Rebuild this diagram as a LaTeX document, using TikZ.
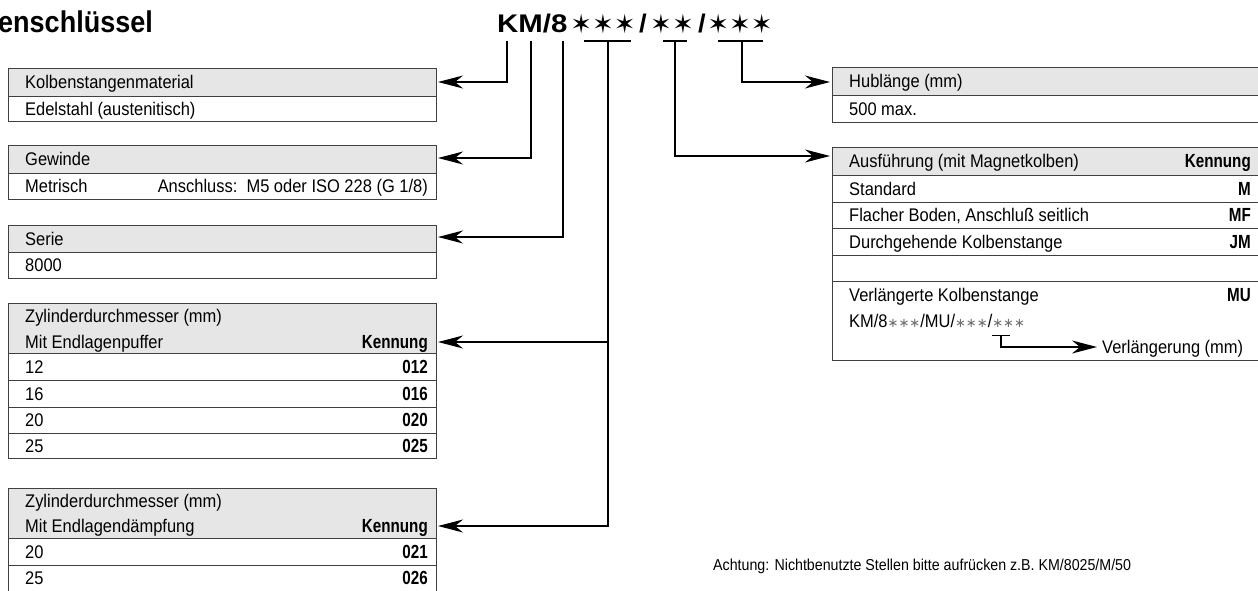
\documentclass[tikz,border=0pt]{standalone}
\usepackage{fontspec}
\setmainfont{Liberation Sans}[FakeStretch=0.9]
\newfontfamily\kbf{Liberation Sans}[FakeStretch=0.8]
\newfontfamily\starf{DejaVu Sans}
\usetikzlibrary{arrows.meta}
\definecolor{hdrgray}{HTML}{E6E6E6}
\definecolor{boxline}{HTML}{404040}
\definecolor{stargray}{HTML}{707070}
\tikzset{
  frame/.style={draw=boxline, line width=1pt, inner sep=0pt, anchor=north west},
  hdr/.style={fill=hdrgray},
  sep/.style={draw=boxline, line width=1pt},
  txt/.style={anchor=base west, yshift=-6.5pt, inner sep=0pt, font=\fontsize{18.3}{21}\selectfont},
  rtxt/.style={anchor=base east, yshift=-6.5pt, inner sep=0pt, font=\kbf\bfseries\fontsize{19}{21}\selectfont},
  conn/.style={line width=1.3pt, draw=black},
  arr/.style={conn, -{Stealth[length=25pt, width=13pt, inset=8pt]}},
  ttl/.style={inner sep=0pt, anchor=base, font=\bfseries\fontsize{25.5}{26}\selectfont},
  stars/.style={inner sep=0pt, anchor=base, font=\starf\fontsize{26}{26}\selectfont},
}
\newcommand\smallstars{{\starf\fontsize{13}{13}\selectfont\color{stargray}∗∗∗}}
\begin{document}
\begin{tikzpicture}[x=1pt, y=-1pt]
\useasboundingbox (0,0) rectangle (1258,590);
\clip (0,0) rectangle (1258,590);

% ---------- titles ----------
\node[anchor=base east, inner sep=0pt, font=\bfseries\fontsize{30}{30}\selectfont] (title) at (153,32) {enschlüssel};
\node[ttl, anchor=base west] (tKM) at (497,32) {\scalebox{1.28}[1]{KM/8}};
\node[stars] (st1) at (603,33) {✶✶✶};
\node[ttl] (sl1) at (643,32) {\scalebox{1.2}[1]{/}};
\node[stars] (st2) at (672,33) {✶✶};
\node[ttl] (sl2) at (702,32) {\scalebox{1.2}[1]{/}};
\node[stars] (st3) at (740,33) {✶✶✶};

\coordinate (sK) at (507,41);
\coordinate (sM) at (531,41);
\coordinate (s8) at (563,41);
\coordinate (u1) at (608,41);
\coordinate (u2) at (675,41);
\coordinate (u3) at (742,41);
\draw[conn] (584,41) -- (631,41);
\draw[conn] (663,41) -- (687,41);
\draw[conn] (718,41) -- (763,41);

% ---------- left boxes ----------
% Kolbenstangenmaterial
\fill[hdr] (8,68) rectangle (436,96);
\draw[sep] (8,96) -- (436,96);
\node[frame, minimum width=428pt, minimum height=53pt] (mat) at (8,68) {};
\node[txt] (mat1) at (25,82) {Kolbenstangenmaterial};
\node[txt] (mat2) at (25,108.5) {Edelstahl (austenitisch)};

% Gewinde
\fill[hdr] (8,145) rectangle (436,173);
\draw[sep] (8,173) -- (436,173);
\node[frame, minimum width=428pt, minimum height=54pt] (gew) at (8,145) {};
\node[txt] (gew1) at (25,159) {Gewinde};
\node[txt] (gew2) at (25,186) {Metrisch};
\node[txt, anchor=base east] (gew3) at (428,186) {Anschluss:\ \ M5 oder ISO 228 (G 1/8)};

% Serie
\fill[hdr] (8,225) rectangle (436,252);
\draw[sep] (8,252) -- (436,252);
\node[frame, minimum width=428pt, minimum height=53pt] (ser) at (8,225) {};
\node[txt] (ser1) at (25,238.5) {Serie};
\node[txt] (ser2) at (25,265) {8000};

% Zylinder 1
\fill[hdr] (8,303) rectangle (436,353);
\draw[sep] (8,353) -- (436,353);
\draw[sep] (8,380) -- (436,380);
\draw[sep] (8,407) -- (436,407);
\draw[sep] (8,433) -- (436,433);
\node[frame, minimum width=428pt, minimum height=155pt] (zyl1) at (8,303) {};
\node[txt] (z1a) at (25,316) {Zylinderdurchmesser (mm)};
\node[txt] (z1b) at (25,341.5) {Mit Endlagenpuffer};
\node[rtxt] (z1k) at (428,341.5) {Kennung};
\node[txt] (z1r1) at (25,366.5) {12};
\node[rtxt] (z1c1) at (428,366.5) {012};
\node[txt] (z1r2) at (25,393.5) {16};
\node[rtxt] (z1c2) at (428,393.5) {016};
\node[txt] (z1r3) at (25,420) {20};
\node[rtxt] (z1c3) at (428,420) {020};
\node[txt] (z1r4) at (25,445.5) {25};
\node[rtxt] (z1c4) at (428,445.5) {025};

% Zylinder 2
\fill[hdr] (8,488) rectangle (436,538);
\draw[sep] (8,538) -- (436,538);
\draw[sep] (8,565) -- (436,565);
\node[frame, minimum width=428pt, minimum height=105pt] (zyl2) at (8,488) {};
\node[txt] (z2a) at (25,501) {Zylinderdurchmesser (mm)};
\node[txt] (z2b) at (25,526) {Mit Endlagendämpfung};
\node[rtxt] (z2k) at (428,526) {Kennung};
\node[txt] (z2r1) at (25,551.5) {20};
\node[rtxt] (z2c1) at (428,551.5) {021};
\node[txt] (z2r2) at (25,578) {25};
\node[rtxt] (z2c2) at (428,578) {026};

% ---------- right boxes ----------
% Hublaenge
\fill[hdr] (832,67) rectangle (1262,95);
\draw[sep] (832,95) -- (1262,95);
\node[frame, minimum width=430pt, minimum height=55pt] (hub) at (832,67) {};
\node[txt] (hub1) at (849,81) {Hublänge (mm)};
\node[txt] (hub2) at (849,108.5) {500 max.};

% Ausfuehrung
\fill[hdr] (832,147) rectangle (1262,175);
\draw[sep] (832,175) -- (1262,175);
\draw[sep] (832,202) -- (1262,202);
\draw[sep] (832,228) -- (1262,228);
\draw[sep] (832,255) -- (1262,255);
\draw[sep] (832,281) -- (1262,281);
\node[frame, minimum width=430pt, minimum height=213pt] (aus) at (832,147) {};
\node[txt] (aus1) at (849,161) {Ausführung (mit Magnetkolben)};
\node[rtxt] (ausk) at (1251,161) {Kennung};
\node[txt] (aus2) at (849,188.5) {Standard};
\node[rtxt] (ausc2) at (1251,188.5) {M};
\node[txt] (aus3) at (849,215) {Flacher Boden, Anschluß seitlich};
\node[rtxt] (ausc3) at (1251,215) {MF};
\node[txt] (aus4) at (849,241.5) {Durchgehende Kolbenstange};
\node[rtxt] (ausc4) at (1251,241.5) {JM};
\node[txt] (aus5) at (849,295) {Verlängerte Kolbenstange};
\node[rtxt] (ausc5) at (1251,295) {MU};
\node[txt] (aus6) at (849,321) {KM/8\smallstars/MU/\smallstars/\smallstars};
\coordinate (v0) at (1001,335);
\draw[line width=1pt] (992,335) -- (1010,335);
\node[txt] (verl) at (1102,347) {Verlängerung (mm)};
\coordinate (vtip) at (1097,347);
\draw[arr] (v0) |- (vtip);

% note
\node[txt, font=\fontsize{15.8}{18}\selectfont, yshift=0.8pt] (note) at (713,565) {Achtung: Nichtbenutzte Stellen bitte aufrücken z.B. KM/8025/M/50};

% ---------- connectors ----------
\draw[arr] (sK) |- ([xshift=1pt,yshift=-14pt]mat.north east);
\draw[arr] (sM) |- ([xshift=1pt,yshift=-13pt]gew.north east);
\draw[arr] (s8) |- ([xshift=1pt,yshift=-12pt]ser.north east);
\draw[arr] (u1) |- ([xshift=1pt,yshift=-39pt]zyl1.north east);
\draw[arr] (u1) |- ([xshift=1pt,yshift=-38pt]zyl2.north east);
\draw[arr] (u2) |- ([xshift=-2pt,yshift=-9pt]aus.north west);
\draw[arr] (u3) |- ([xshift=-2pt,yshift=-15pt]hub.north west);
\end{tikzpicture}
\end{document}
